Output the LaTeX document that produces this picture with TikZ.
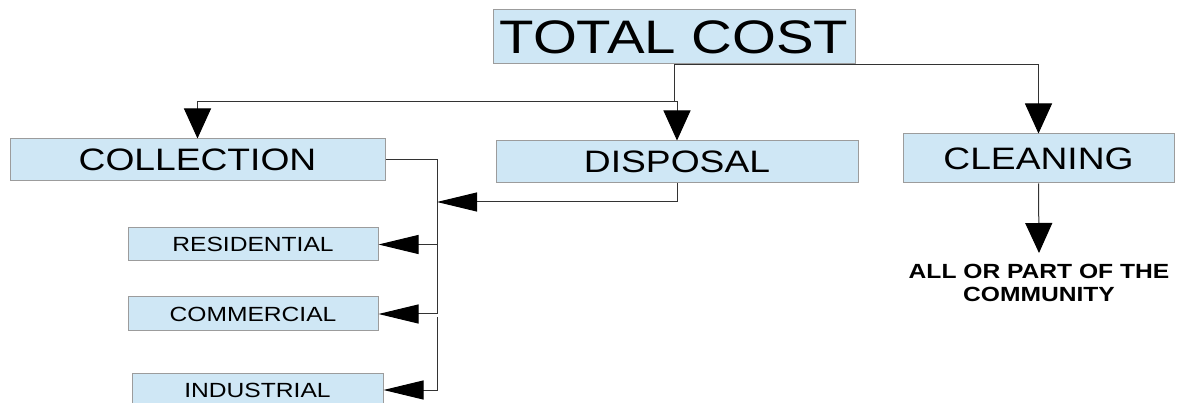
\documentclass[tikz,border=0pt]{standalone}
\usepackage{fontspec}
\newfontfamily\chartfont[FakeStretch=1.2]{Liberation Sans}
\usepackage{tikz}
\usetikzlibrary{positioning, arrows.meta}
\usepackage{xcolor}
\definecolor{xblue}{HTML}{CFE7F5}
\definecolor{xgrey}{HTML}{9C9C9C}
\definecolor{xline}{HTML}{333333}
\tikzset{
	box/.style={fill=xblue, draw=xgrey, line width=1pt, inner sep=0pt, font=\chartfont},
	arrow/.style={draw=xline, line width=1pt, -{Triangle[length=30pt, width=27pt, black]}},
	sidearrow/.style={draw=xline, line width=1pt, -{Triangle[length=40pt, width=19pt, black]}},
	line/.style={draw=xline, line width=1pt},
}

\begin{document}
\begin{tikzpicture}[x=1pt, y=-1pt]
			\useasboundingbox (0,0) rectangle (1178,403);
			\node[box, minimum width=362pt, minimum height=54pt, font=\chartfont\fontsize{47}{52}\selectfont] (total) at (674,37) {TOTAL COST};

			\node[box, minimum width=375pt, minimum height=42pt, font=\chartfont\fontsize{31}{36}\selectfont] (collection) at (197.5,160) {COLLECTION};
			\node[box, minimum width=362pt, minimum height=42pt, font=\chartfont\fontsize{31}{36}\selectfont] (disposal) at (677,162) {DISPOSAL};
			\node[box, minimum width=271pt, minimum height=49pt, font=\chartfont\fontsize{31}{36}\selectfont] (cleaning) at (1038.5,158.5) {CLEANING};

			\node[box, minimum width=250pt, minimum height=33pt, font=\chartfont\fontsize{20.5}{24}\selectfont] (residential) at (253,244.5) {RESIDENTIAL};
			\node[box, minimum width=250pt, minimum height=34pt, font=\chartfont\fontsize{20.5}{24}\selectfont] (commercial) at (253,314) {COMMERCIAL};
			\node[box, minimum width=251pt, minimum height=34pt, font=\chartfont\fontsize{20.5}{24}\selectfont] (industrial) at (257.5,390) {INDUSTRIAL};

			\node[align=center, anchor=north, inner xsep=2pt, inner ysep=11pt, font=\chartfont\bfseries\fontsize{20.5}{23}\selectfont] (community) at (1039,253) {ALL OR PART OF THE\\COMMUNITY};

			\coordinate (split) at (674,102);
			\coordinate (bustop) at (437,160);
			\coordinate (busdisp) at (437,202);
			\coordinate (busres) at (437,244.5);
			\coordinate (buscom) at (437,314);
			\coordinate (busind) at (437,317);
			\coordinate (busend) at (437,390);

			\draw[arrow] (total.south) -- (split) -| (collection.north);
			\draw[arrow] (split) -- ++(3,0) -- (disposal.north);
			\draw[arrow] (total.south) -| (cleaning.north);
			\draw[arrow] (cleaning.south) -- (community.north);

			\draw[line] (collection.east) -- (bustop) -- (buscom);
			\draw[sidearrow] (disposal.south) |- (busdisp);
			\draw[sidearrow] (busres) -- (residential.east);
			\draw[sidearrow] (buscom) -- (commercial.east);
			\draw[sidearrow] (busind) -- (busend) -- (industrial.east);
		\end{tikzpicture}
\end{document}
